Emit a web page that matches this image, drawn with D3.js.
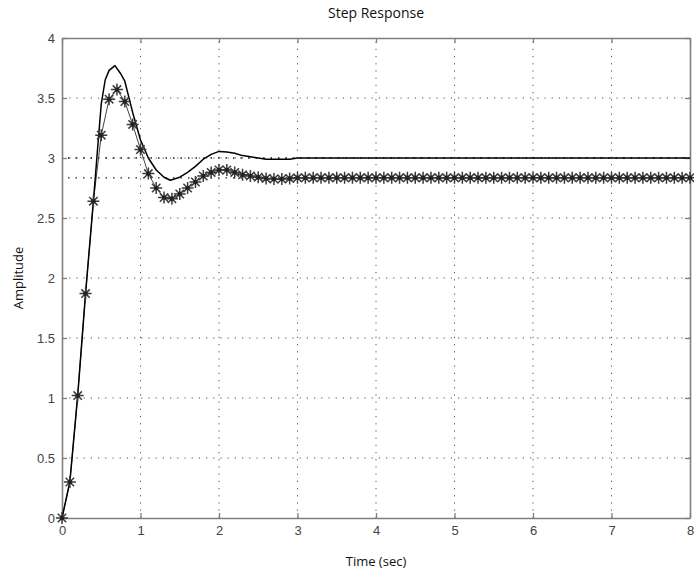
<!DOCTYPE html>
<html>
<head>
<meta charset="utf-8">
<script src="https://cdn.jsdelivr.net/npm/d3@7"></script>
<style>
  body { margin: 0; background: #fff; }
  svg { display: block; font-family: "Open Sans", "Noto Sans", sans-serif; }
</style>
</head>
<body>
<svg width="694" height="578"></svg>
<script>
// continuous response (solid line)
var lineT = [0, 0.1, 0.2, 0.3, 0.4, 0.45, 0.5, 0.55, 0.6, 0.675, 0.75, 0.8, 0.9, 1.0, 1.1, 1.2, 1.3, 1.38, 1.5, 1.6, 1.7, 1.8, 1.9, 2.0, 2.1, 2.2, 2.3, 2.4, 2.5, 2.6, 2.7, 2.8, 2.9, 3.0, 8.0];
var lineY = [0, 0.30, 1.02, 1.87, 2.64, 3.05, 3.45, 3.65, 3.73, 3.77, 3.70, 3.64, 3.38, 3.15, 3.00, 2.90, 2.84, 2.815, 2.84, 2.88, 2.93, 2.99, 3.03, 3.055, 3.05, 3.04, 3.02, 3.01, 3.00, 2.99, 2.99, 2.99, 2.99, 3.0, 3.0];

// sampled response (asterisks), dt = 0.1
var starY = [0, 0.30, 1.02, 1.87, 2.64, 3.19, 3.49, 3.57, 3.47, 3.28, 3.07, 2.87, 2.75, 2.67, 2.66, 2.70, 2.75, 2.80, 2.85, 2.88, 2.90, 2.90, 2.88, 2.86, 2.85, 2.84, 2.83, 2.825, 2.825, 2.83,
  2.835, 2.835, 2.835, 2.835, 2.835, 2.835, 2.835, 2.835, 2.835, 2.835, 2.835, 2.835, 2.835, 2.835, 2.835, 2.835, 2.835, 2.835, 2.835, 2.835,
  2.835, 2.835, 2.835, 2.835, 2.835, 2.835, 2.835, 2.835, 2.835, 2.835, 2.835, 2.835, 2.835, 2.835, 2.835, 2.835, 2.835, 2.835, 2.835, 2.835,
  2.835, 2.835, 2.835, 2.835, 2.835, 2.835, 2.835, 2.835, 2.835, 2.835, 2.835];
var dt = 0.1;

var finalVals = [3.0, 2.835];
var xTicks = [0, 1, 2, 3, 4, 5, 6, 7, 8];
var yTicks = [0, 0.5, 1, 1.5, 2, 2.5, 3, 3.5, 4];

var svg = d3.select("svg"),
  margin = { top: 38, right: 4, bottom: 60, left: 62 },
  W = +svg.attr("width"), H = +svg.attr("height");

var x = d3.scaleLinear().domain([0, 8]).range([margin.left, W - margin.right]);
var y = d3.scaleLinear().domain([0, 4]).range([H - margin.bottom, margin.top]);

var axisCol = "#7f7f7f", textCol = "#444";

// grid
svg.append("g").selectAll("line").data(xTicks.slice(1, -1)).enter().append("line")
  .attr("x1", d => x(d)).attr("x2", d => x(d))
  .attr("y1", y(0)).attr("y2", y(4))
  .attr("stroke", "#555").attr("stroke-width", 1).attr("stroke-dasharray", "1.2,6");
svg.append("g").selectAll("line").data(yTicks.slice(1, -1)).enter().append("line")
  .attr("y1", d => y(d)).attr("y2", d => y(d))
  .attr("x1", x(0)).attr("x2", x(8))
  .attr("stroke", "#555").attr("stroke-width", 1).attr("stroke-dasharray", "1.2,6");

// steady state lines
svg.append("g").selectAll("line").data(finalVals).enter().append("line")
  .attr("y1", d => y(d)).attr("y2", d => y(d))
  .attr("x1", x(0) + 6).attr("x2", x(8))
  .attr("stroke", "#222").attr("stroke-width", 1.3).attr("stroke-dasharray", "1.5,6");

// axes box with inward ticks
var gx = svg.append("g").attr("transform", "translate(0," + y(0) + ")")
  .call(d3.axisBottom(x).tickValues(xTicks).tickFormat(d3.format("d")).tickSizeInner(-5).tickSizeOuter(0).tickPadding(8));
var gxt = svg.append("g").attr("transform", "translate(0," + y(4) + ")")
  .call(d3.axisTop(x).tickValues(xTicks).tickFormat("").tickSizeInner(-5).tickSizeOuter(0));
var gy = svg.append("g").attr("transform", "translate(" + x(0) + ",0)")
  .call(d3.axisLeft(y).tickValues(yTicks).tickFormat(d3.format("")).tickSizeInner(-5).tickSizeOuter(0).tickPadding(7));
var gyr = svg.append("g").attr("transform", "translate(" + x(8) + ",0)")
  .call(d3.axisRight(y).tickValues(yTicks).tickFormat("").tickSizeInner(-5).tickSizeOuter(0));

[gx, gxt, gy, gyr].forEach(function (g) {
  g.select(".domain").attr("stroke", axisCol).attr("stroke-width", 1.6);
  g.selectAll(".tick line").attr("stroke", axisCol).attr("stroke-width", 1.3);
  g.selectAll(".tick text").attr("fill", textCol).style("font-size", "13px").style("font-family", "inherit");
});

// thin line through samples
var starData = starY.map((v, i) => ({ t: i * dt, v: v }));
svg.append("path").datum(starData)
  .attr("fill", "none").attr("stroke", "#444").attr("stroke-width", 1)
  .attr("d", d3.line().x(d => x(d.t)).y(d => y(d.v)));

// solid line
var lineData = lineT.map((t, i) => ({ t: t, v: lineY[i] }));
svg.append("path").datum(lineData)
  .attr("fill", "none").attr("stroke", "#000").attr("stroke-width", 1.5)
  .attr("stroke-linejoin", "round")
  .attr("d", d3.line().x(d => x(d.t)).y(d => y(d.v)));

// asterisk markers
var s = 6, k = 4.2;
var starPath = "M" + (-s) + ",0L" + s + ",0M0," + (-s) + "L0," + s +
  "M" + (-k) + "," + (-k) + "L" + k + "," + k + "M" + (-k) + "," + k + "L" + k + "," + (-k);
var marks = svg.append("g").selectAll("g").data(starData).enter().append("g")
  .attr("transform", d => "translate(" + x(d.t) + "," + y(d.v) + ")");
marks.append("path").attr("d", starPath).attr("stroke", "#3a3a3a").attr("stroke-width", 1.5).attr("fill", "none");
marks.append("circle").attr("r", 2.2).attr("fill", "#222");

// texts
svg.append("text").attr("x", (x(0) + x(8)) / 2).attr("y", 18)
  .attr("text-anchor", "middle").attr("fill", "#111").style("font-size", "14px")
  .text("Step Response");
svg.append("text").attr("x", (x(0) + x(8)) / 2).attr("y", 566)
  .attr("text-anchor", "middle").attr("fill", "#111").style("font-size", "13px")
  .text("Time (sec)");
svg.append("text").attr("transform", "translate(23," + ((y(0) + y(4)) / 2) + ") rotate(-90)")
  .attr("text-anchor", "middle").attr("fill", "#111").style("font-size", "13px")
  .text("Amplitude");
</script>
</body>
</html>
